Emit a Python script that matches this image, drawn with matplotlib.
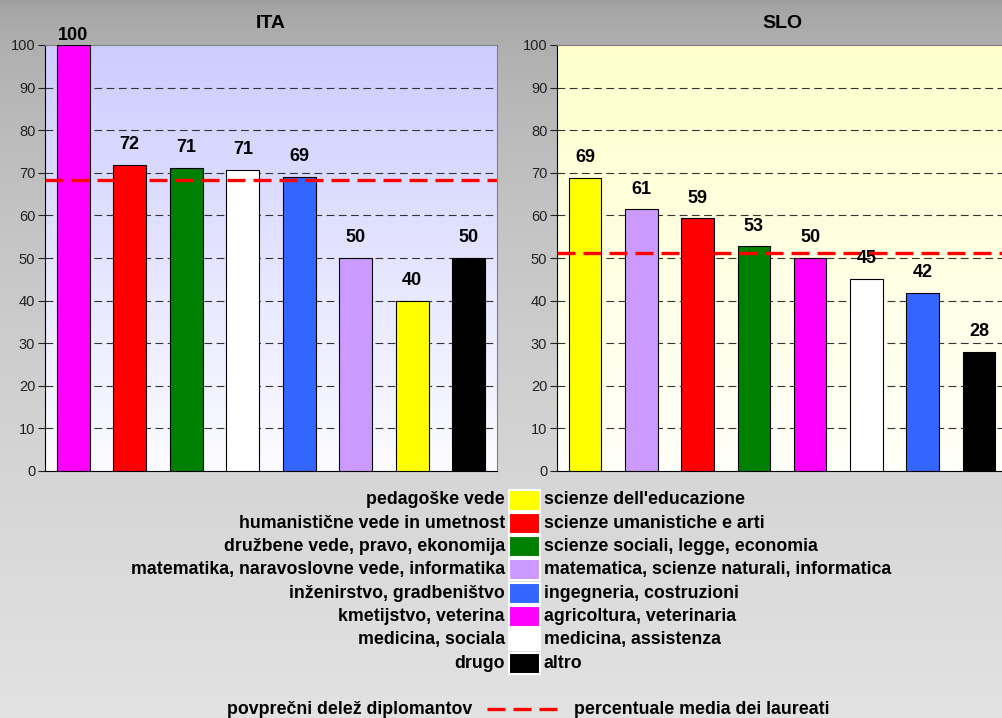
import numpy as np
import matplotlib
matplotlib.use("Agg")
import matplotlib.pyplot as plt
from matplotlib.patches import Rectangle

plt.rcParams['font.family'] = ['Liberation Sans', 'DejaVu Sans']

# colours per field of study
COL = {
    'edu': '#ffff00', 'hum': '#ff0000', 'soc': '#008000', 'mat': '#cc99ff',
    'ing': '#3366ff', 'agr': '#ff00ff', 'med': '#ffffff', 'altro': '#000000',
}

ita_keys = ['agr', 'hum', 'soc', 'med', 'ing', 'mat', 'edu', 'altro']
ita_vals = [100, 71.8, 71.2, 70.6, 69.1, 50.0, 40.0, 50.0]
ita_mean = 68.3

slo_keys = ['edu', 'mat', 'hum', 'soc', 'agr', 'med', 'ing', 'altro']
slo_vals = [68.8, 61.4, 59.3, 52.7, 50.0, 45.0, 41.8, 27.9]
slo_mean = 51.1

leg_keys = ['edu', 'hum', 'soc', 'mat', 'ing', 'agr', 'med', 'altro']
leg_slo = ['pedagoške vede', 'humanistične vede in umetnost',
           'družbene vede, pravo, ekonomija',
           'matematika, naravoslovne vede, informatika',
           'inženirstvo, gradbeništvo', 'kmetijstvo, veterina',
           'medicina, sociala', 'drugo']
leg_ita = ["scienze dell'educazione", 'scienze umanistiche e arti',
           'scienze sociali, legge, economia',
           'matematica, scienze naturali, informatica',
           'ingegneria, costruzioni', 'agricoltura, veterinaria',
           'medicina, assistenza', 'altro']
mean_slo = 'povprečni delež diplomantov'
mean_ita = 'percentuale media dei laureati'

W, H = 1002, 718
fig = plt.figure(figsize=(W / 100, H / 100), dpi=100)

# figure background, gray gradient, used also as pixel canvas for the legend
bg = fig.add_axes([0, 0, 1, 1], zorder=-10)
grad = np.sqrt(np.linspace(0, 1, 256))[:, None, None]
gray = (158 + (226 - 158) * grad) * np.ones((256, 2, 3))
bg.imshow(gray / 255, aspect='auto', extent=[0, W, H, 0])
bg.set_xlim(0, W)
bg.set_ylim(H, 0)
bg.axis('off')


def panel(rect, keys, vals, mean, title, top, bottom):
    ax = fig.add_axes(rect)
    g = np.linspace(0, 1, 256)[:, None, None]
    img = np.array(top)[None, None, :] * (1 - g) + np.array(bottom)[None, None, :] * g
    img = np.repeat(img, 2, axis=1) / 255
    ax.imshow(img, aspect='auto', extent=[-0.5, 7.5, 0, 100], zorder=0)
    x = np.arange(len(vals))
    ax.bar(x, vals, width=0.58, color=[COL[k] for k in keys],
           edgecolor='black', linewidth=0.8, zorder=3)
    for xi, v in zip(x, vals):
        off = 8.5 if v < 99 else 1
        ax.annotate(f'{v:.0f}', (xi, v), xytext=(0, off), textcoords='offset points',
                    ha='center', va='bottom', fontsize=13, fontweight='bold',
                    annotation_clip=False, zorder=5)
    ax.axhline(mean, color='#ff0000', lw=2.4, ls=(0, (5.4, 2.4)), zorder=4)
    for yv in range(10, 100, 10):
        ax.axhline(yv, color='#333333', lw=0.8, ls=(0, (7, 4)), zorder=1)
    ax.set_xlim(-0.5, 7.5)
    ax.set_ylim(0, 100)
    ax.set_yticks(range(0, 101, 10))
    ax.set_xticks([])
    ax.tick_params(axis='y', labelsize=10.5, length=5, width=0.8, colors='#222222',
                   direction='out', pad=2)
    for s in ('top', 'right'):
        ax.spines[s].set_color('#808080')
    for s in ('left', 'bottom'):
        ax.spines[s].set_color('black')
    ax.set_title(title, fontsize=14, fontweight='bold', pad=12)
    return ax


panel([45 / W, 247 / H, 452 / W, 426 / H], ita_keys, ita_vals, ita_mean, 'ITA',
      (204, 204, 255), (252, 252, 255))
panel([557 / W, 247 / H, 450 / W, 426 / H], slo_keys, slo_vals, slo_mean, 'SLO',
      (255, 255, 204), (255, 255, 250))

# legend in pixel coordinates
row0, dy = 500, 23.3
fs = 12.8
for i, (k, ls, li) in enumerate(zip(leg_keys, leg_slo, leg_ita)):
    y = row0 + i * dy
    bg.add_patch(Rectangle((509, y - 10.5), 31, 21, facecolor=COL[k],
                           edgecolor='white', lw=1.5))
    bg.text(505, y, ls, ha='right', va='center', fontsize=fs, fontweight='bold')
    bg.text(544, y, li, ha='left', va='center', fontsize=fs, fontweight='bold')

ym = 709
bg.plot([487, 562], [ym, ym], color='#ff0000', lw=2.4, ls=(0, (5.4, 2.4)))
bg.text(472, ym, mean_slo, ha='right', va='center', fontsize=fs, fontweight='bold')
bg.text(574, ym, mean_ita, ha='left', va='center', fontsize=fs, fontweight='bold')

fig.savefig('out.png', dpi=100)
